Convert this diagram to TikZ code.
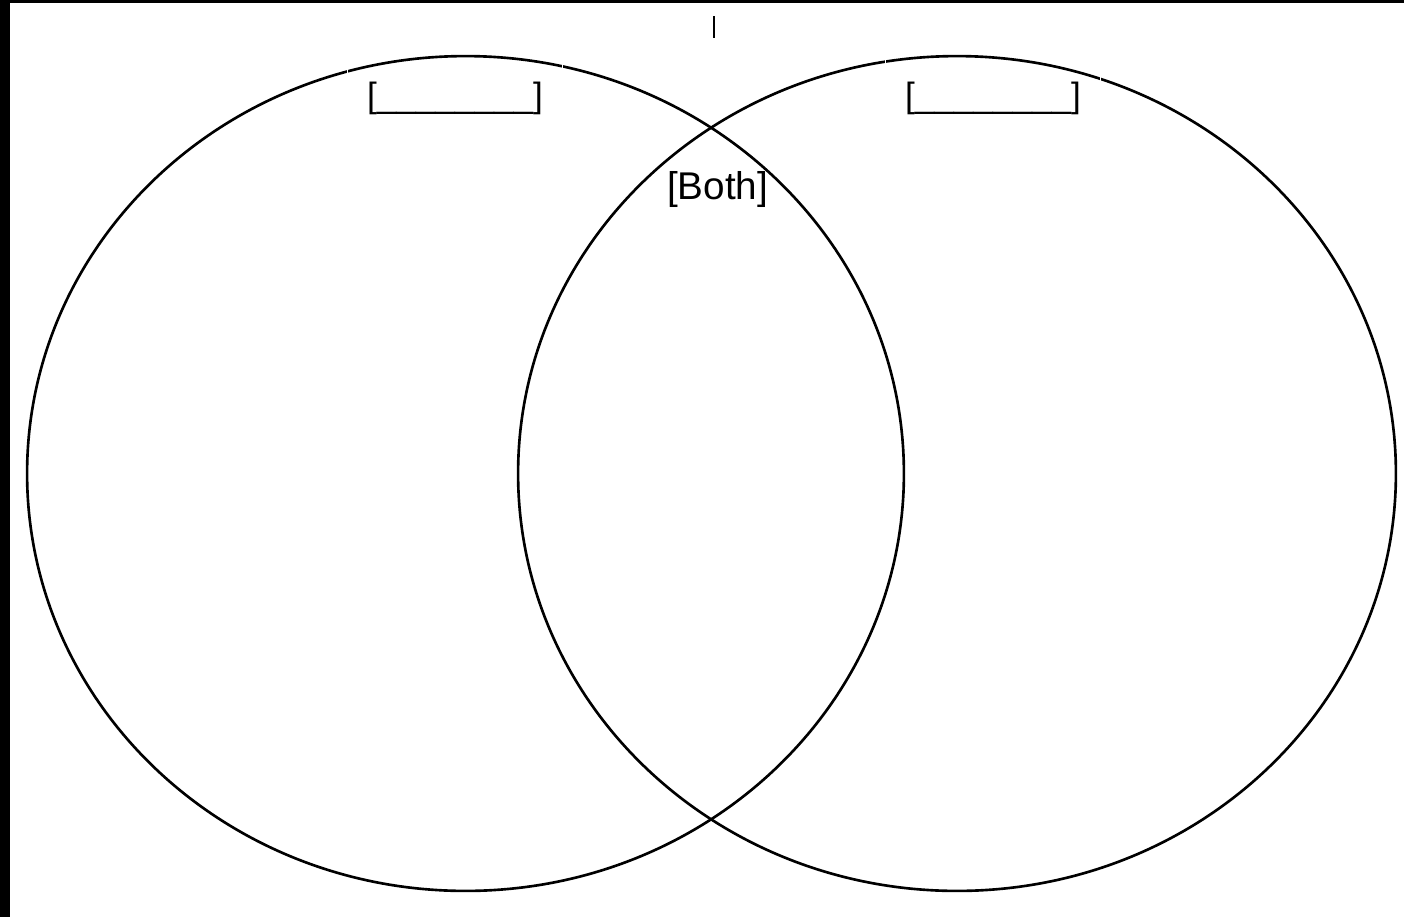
\documentclass[tikz,border=0pt]{standalone}
\usepackage{fontspec}
\setmainfont{Liberation Sans}
\usepackage{tikz}
\usetikzlibrary{shapes.geometric}

\begin{document}
\begin{tikzpicture}[x=0.02cm,y=-0.02cm,
  set/.style={ellipse,draw,line width=1.5pt,inner sep=0pt,outer sep=0pt},
  lbl/.style={draw=white,line width=0.6pt,minimum width=4.3cm,minimum height=2.6cm,
    anchor=base,font=\fontsize{20}{24}\selectfont},
  both/.style={anchor=base,inner sep=0pt,font=\fontsize{22}{26}\selectfont}]
 \fill[black] (0,0) rectangle (1404,917);
 \fill[white] (10,3) rectangle (1404,917);
 \useasboundingbox (0,0) rectangle (1404,917);
 \draw[line width=0.6pt] (714,16) -- (714,38);
 \node[set,minimum width=17.54cm,minimum height=16.7cm] (A) at (465.5,473.5) {};
 \node[set,minimum width=17.56cm,minimum height=16.7cm] (B) at (957,473.5) {};
 \node[lbl] (la) at (455,107) {[\_\_\_\_\_\_\_\_]};
 \node[lbl] (lb) at (993,107) {[\_\_\_\_\_\_\_\_]};
 \node[both] (ab) at (717.5,199) {[Both]};
\end{tikzpicture}
\end{document}
